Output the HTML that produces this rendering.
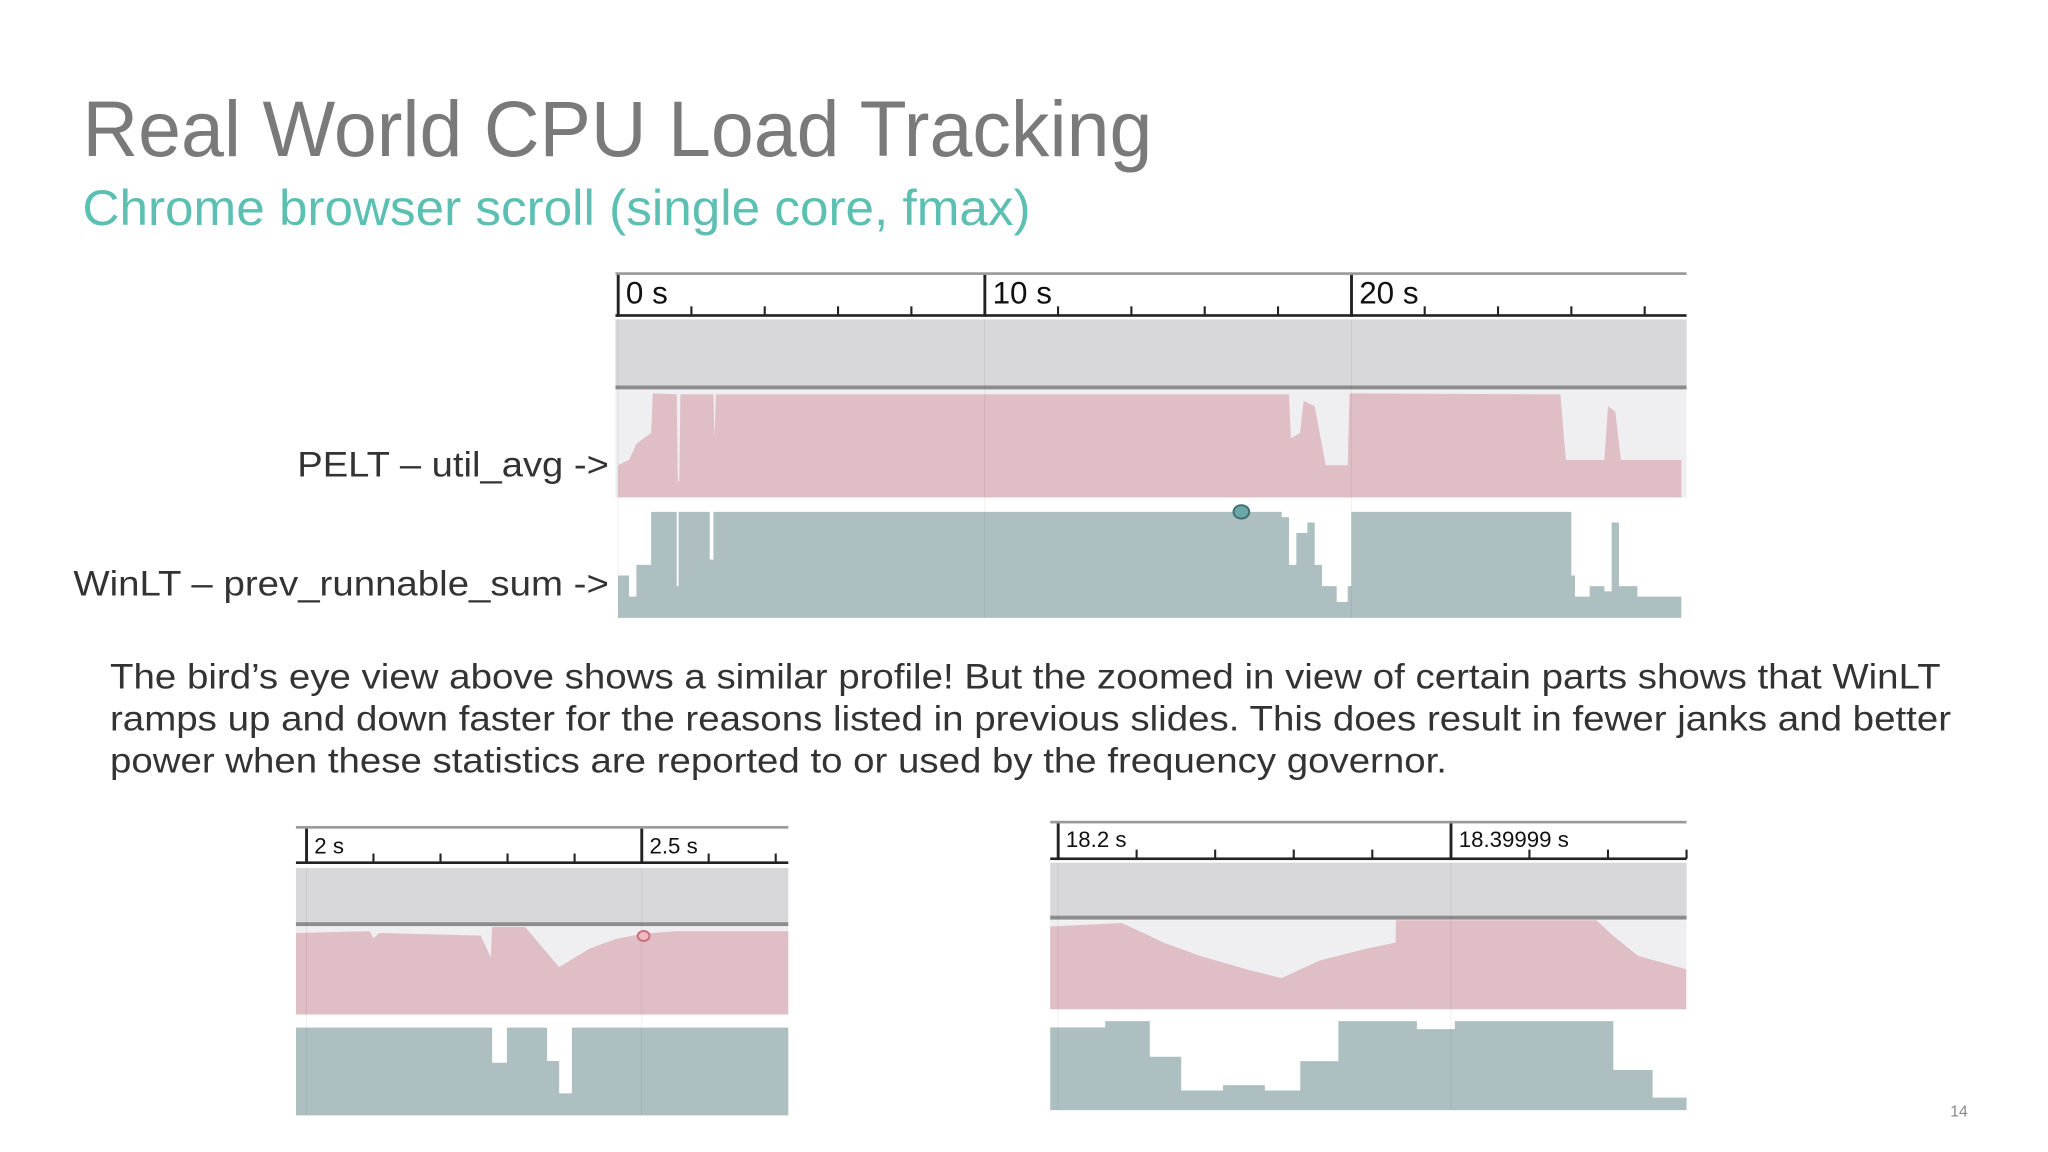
<!DOCTYPE html>
<html><head><meta charset="utf-8"><style>
html,body{margin:0;padding:0;background:#fff;}
svg{display:block;}
text{font-family:"Liberation Sans",sans-serif;}
</style></head><body>
<svg id="slide" width="2048" height="1152" viewBox="0 0 1564 880" preserveAspectRatio="none" xmlns="http://www.w3.org/2000/svg">
<rect x="0" y="0" width="1564" height="880" fill="#ffffff"/>
<text x="63" y="119" font-size="60" fill="#7a7a7a" textLength="817" lengthAdjust="spacingAndGlyphs">Real World CPU Load Tracking</text>
<text x="63" y="172" font-size="38" fill="#5bbfb2" textLength="724" lengthAdjust="spacingAndGlyphs">Chrome browser scroll (single core, fmax)</text>
<text x="465" y="364" font-size="27" fill="#333" text-anchor="end" textLength="238" lengthAdjust="spacingAndGlyphs">PELT – util_avg -&gt;</text>
<text x="465" y="455" font-size="27" fill="#333" text-anchor="end" textLength="409" lengthAdjust="spacingAndGlyphs">WinLT – prev_runnable_sum -&gt;</text>
<g font-size="27" fill="#333">
<text x="84" y="526" textLength="1398" lengthAdjust="spacingAndGlyphs">The bird’s eye view above shows a similar profile! But the zoomed in view of certain parts shows that WinLT</text>
<text x="84" y="558" textLength="1406" lengthAdjust="spacingAndGlyphs">ramps up and down faster for the reasons listed in previous slides. This does result in fewer janks and better</text>
<text x="84" y="590" textLength="1021" lengthAdjust="spacingAndGlyphs">power when these statistics are reported to or used by the frequency governor.</text>
</g>
<text x="1496" y="853" font-size="12" fill="#888" text-anchor="middle">14</text>
<g id="mainChart"></g>
<g id="leftChart"></g>
<g id="rightChart"></g>
</svg>
<script>
// ---- overview chart data ----
const mainTickValues = [0, 10, 20];
const mainTickLabels = ["0 s", "10 s", "20 s"];
const mainPeltT = [0, 0.3, 0.5, 0.9, 0.95, 1.6, 1.63, 1.67, 1.7, 2.6, 2.63, 2.67, 18.3, 18.35, 18.6, 18.7, 19.0, 19.3, 19.9, 19.95, 25.7, 25.85, 26.9, 27.0, 27.2, 27.35, 29.0];
const mainPeltV = [0.3, 0.35, 0.5, 0.6, 0.97, 0.96, 0.15, 0.15, 0.96, 0.96, 0.55, 0.96, 0.96, 0.55, 0.6, 0.9, 0.85, 0.3, 0.3, 0.97, 0.96, 0.35, 0.35, 0.85, 0.8, 0.35, 0.35];
const mainWinT = [0, 0.3, 0.5, 0.9, 1.6, 1.65, 2.5, 2.6, 18.1, 18.3, 18.5, 18.8, 19.0, 19.2, 19.6, 19.9, 20.0, 26.0, 26.1, 26.5, 26.9, 27.1, 27.3, 27.8, 29.0];
const mainWinV = [0.4, 0.2, 0.5, 1.0, 0.3, 1.0, 0.55, 1.0, 0.95, 0.5, 0.8, 0.9, 0.5, 0.3, 0.15, 0.3, 1.0, 0.4, 0.2, 0.3, 0.25, 0.9, 0.3, 0.2, 0.2];
const mainCursorT = [17.0];
// ---- 2 s zoom chart data ----
const leftTickValues = [2.0, 2.5];
const leftTickLabels = ["2 s", "2.5 s"];
const leftPeltT = [1.984, 2.094, 2.1, 2.109, 2.26, 2.275, 2.277, 2.326, 2.377, 2.422, 2.461, 2.5, 2.55, 2.719];
const leftPeltV = [0.93, 0.95, 0.87, 0.93, 0.9, 0.65, 1.0, 1.0, 0.54, 0.75, 0.86, 0.92, 0.95, 0.95];
const leftWinT = [1.984, 2.277, 2.299, 2.359, 2.377, 2.396, 2.719];
const leftWinV = [1.0, 0.6, 1.0, 0.62, 0.25, 1.0, 1.0];
const leftCursorT = [2.503];
// ---- 18.2 s zoom chart data ----
const rightTickValues = [18.2, 18.39999];
const rightTickLabels = ["18.2 s", "18.39999 s"];
const rightPeltT = [18.1953, 18.2324, 18.2442, 18.2535, 18.2723, 18.2958, 18.3137, 18.3334, 18.3569, 18.3719, 18.372, 18.4742, 18.4813, 18.4953, 18.5198];
const rightPeltV = [0.93, 0.97, 0.85, 0.75, 0.6, 0.45, 0.35, 0.55, 0.68, 0.75, 1.0, 1.0, 0.85, 0.6, 0.45];
const rightWinT = [18.1953, 18.224, 18.2467, 18.2627, 18.284, 18.3053, 18.3233, 18.3427, 18.3827, 18.402, 18.4827, 18.5027, 18.52];
const rightWinV = [0.93, 1.0, 0.6, 0.22, 0.28, 0.22, 0.55, 1.0, 0.91, 1.0, 0.45, 0.14, 0.14];

const NS = "http://www.w3.org/2000/svg";
function mk(parent, tag, attrs) {
  const e = document.createElementNS(NS, tag);
  for (const k in attrs) e.setAttribute(k, attrs[k]);
  parent.appendChild(e);
  return e;
}
function drawChart(g, c) {
  const xs = t => c.x0 + (t - c.t0) * c.pxPerSec;
  const clampX = x => Math.max(c.left, Math.min(c.right, x));
  const ruler = mk(g, "g", {});
  
  
  const topLine = mk(ruler, "rect", {x: c.left, y: c.rTop - 1, width: c.right - c.left, height: 2, fill: "#999"});
  
  
  const base = mk(ruler, "rect", {x: c.left, y: c.rBot - 1, width: c.right - c.left, height: 2, fill: "#222"});
  
  
  const majorStep = c.ticks[1] - c.ticks[0];
  const minorStep = majorStep / c.minorCount;
  for (let i = -2; i < 200; i++) {
    const t = c.ticks[0] + i * minorStep;
    const x = xs(t);
    if (x < c.left - 0.5 || x > c.right + 0.5) continue;
    if (i % c.minorCount === 0) continue;
    const tk = mk(ruler, "rect", {x: x - 0.8, y: c.rBot - 7, width: 1.6, height: 7, fill: "#222"});
    
    
  }
  c.ticks.forEach((t, i) => {
    const x = xs(t);
    const tk = mk(ruler, "rect", {x: x - 1, y: c.rTop + 1, width: 2.2, height: c.rBot - c.rTop, fill: "#222"});
    
    
    const lb = mk(ruler, "text", {x: x + 6, y: c.rTop + c.labelDy, "font-size": c.labelSize, fill: "#111"});
    lb.textContent = c.labels[i];
    
    
  });
  const band = mk(g, "rect", {x: c.left, y: c.bTop, width: c.right - c.left, height: c.bBot - c.bTop, fill: "#d8d7da"});
  
  
  const bl = mk(g, "rect", {x: c.left, y: c.bBot - 1.5, width: c.right - c.left, height: 3, fill: "#8c8c8c"});
  
  
  const pBg = mk(g, "rect", {x: c.left, y: c.pTop, width: c.right - c.left, height: c.pBot - c.pTop, fill: "#efeef0"});
  
  
  const pys = v => c.pBot - v * (c.pBot - c.pTop);
  let d = "M" + clampX(xs(c.peltT[0])) + "," + c.pBot;
  c.peltT.forEach((t, i) => { d += " L" + clampX(xs(t)).toFixed(2) + "," + pys(c.peltV[i]).toFixed(2); });
  d += " L" + clampX(xs(c.peltT[c.peltT.length - 1])) + "," + c.pBot + " Z";
  const pa = mk(g, "path", {d: d, fill: "#dfbec6"});
  
  
  const wys = v => c.wBot - v * (c.wBot - c.wTop);
  let w = "M" + clampX(xs(c.winT[0])) + "," + c.wBot;
  for (let i = 0; i < c.winT.length; i++) {
    const x1 = clampX(xs(c.winT[i]));
    const x2 = i + 1 < c.winT.length ? clampX(xs(c.winT[i + 1])) : x1;
    const y = wys(c.winV[i]).toFixed(2);
    w += " L" + x1.toFixed(2) + "," + y + " L" + x2.toFixed(2) + "," + y;
  }
  w += " L" + clampX(xs(c.winT[c.winT.length - 1])) + "," + c.wBot + " Z";
  const wa = mk(g, "path", {d: w, fill: "#adbfc0"});
  
  
  c.ticks.forEach(t => {
    const gl = mk(g, "rect", {x: xs(t) - 0.4, y: c.bTop, width: 0.8, height: c.wBot - c.bTop, fill: "#000", opacity: 0.06});
    
    
  });
  if (c.cursor) {
    const cu = mk(g, "ellipse", {cx: xs(c.cursor[0]), cy: c.cursorY, rx: c.cursorR, ry: c.cursorR * 0.85, fill: c.cursorFill, stroke: c.cursorStroke, "stroke-width": 1.5});
    
    
  }
}
drawChart(document.getElementById("mainChart"), {
  left: 470, right: 1288, x0: 472, t0: 0, pxPerSec: 28,
  ticks: mainTickValues, labels: mainTickLabels, minorCount: 5, labelSize: 24, labelDy: 23,
  rTop: 209, rBot: 241, bTop: 244, bBot: 296, pTop: 298, pBot: 380, wTop: 391, wBot: 472,
  peltT: mainPeltT, peltV: mainPeltV, winT: mainWinT, winV: mainWinV,
  cursor: mainCursorT, cursorY: 391, cursorR: 6, cursorFill: "#6aa7a8", cursorStroke: "#3f6f70"
});
drawChart(document.getElementById("leftChart"), {
  left: 226, right: 602, x0: 234, t0: 2.0, pxPerSec: 512,
  ticks: leftTickValues, labels: leftTickLabels, minorCount: 5, labelSize: 17, labelDy: 20,
  rTop: 632, rBot: 659, bTop: 663, bBot: 706, pTop: 708, pBot: 775, wTop: 785, wBot: 852,
  peltT: leftPeltT, peltV: leftPeltV, winT: leftWinT, winV: leftWinV,
  cursor: leftCursorT, cursorY: 715, cursorR: 4.5, cursorFill: "#f0b8c0", cursorStroke: "#c8707c"
});
drawChart(document.getElementById("rightChart"), {
  left: 802, right: 1288, x0: 808, t0: 18.2, pxPerSec: 1500,
  ticks: rightTickValues, labels: rightTickLabels, minorCount: 5, labelSize: 17, labelDy: 19,
  rTop: 628, rBot: 656, bTop: 659, bBot: 701, pTop: 703, pBot: 771, wTop: 780, wBot: 848,
  peltT: rightPeltT, peltV: rightPeltV, winT: rightWinT, winV: rightWinV
});
</script>
</body></html>
